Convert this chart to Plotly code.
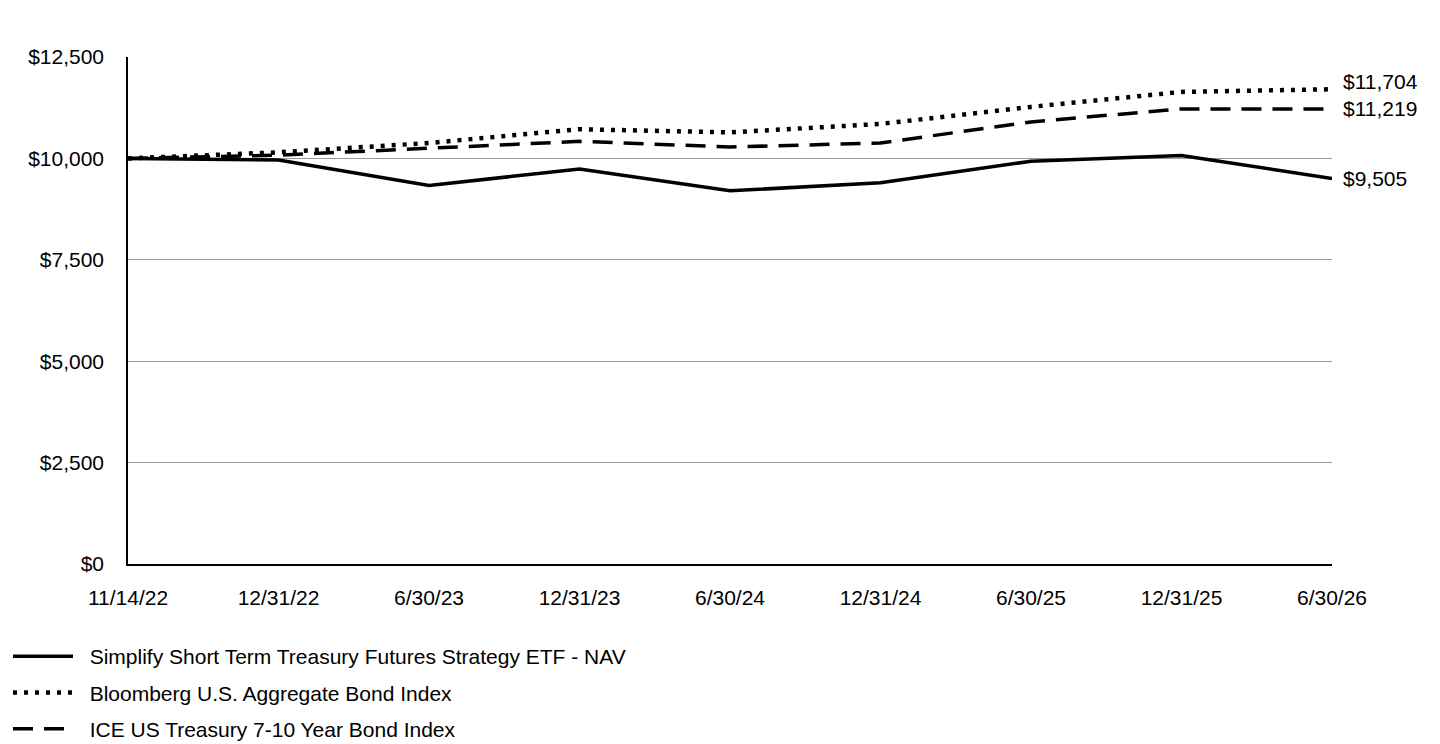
import plotly.graph_objects as go

# period-end dates on the x axis
dates = ["11/14/22", "12/31/22", "6/30/23", "12/31/23", "6/30/24",
         "12/31/24", "6/30/25", "12/31/25", "6/30/26"]

# growth of $10,000
fund_nav = [10000, 9960, 9330, 9740, 9200, 9400, 9930, 10070, 9505]
bloomberg_agg = [10000, 10150, 10380, 10720, 10640, 10850, 11270, 11640, 11704]
ice_treasury = [10000, 10080, 10250, 10420, 10280, 10380, 10900, 11220, 11219]

names = ["Simplify Short Term Treasury Futures Strategy ETF - NAV",
         "Bloomberg U.S. Aggregate Bond Index",
         "ICE US Treasury 7-10 Year Bond Index"]

y_ticks = [0, 2500, 5000, 7500, 10000, 12500]

font = "Liberation Sans, Arial, sans-serif"

fig = go.Figure()

styles = [
    dict(dash="solid", width=3.5, label_shift=0),
    dict(dash="4px,7px", width=4.5, label_shift=8),
    dict(dash="20px,11px", width=3.5, label_shift=0),
]

for i, (name, vals, st) in enumerate(zip(names, [fund_nav, bloomberg_agg, ice_treasury], styles)):
    fig.add_trace(go.Scatter(
        x=dates, y=vals, name="\u00a0\u00a0" + name, mode="lines",
        legendgroup=f"g{i}",
        line=dict(color="black", width=st["width"], dash=st["dash"]),
        hoverinfo="skip",
    ))
    # value label at the end of each line
    fig.add_annotation(
        x=dates[-1], y=vals[-1], text=f"${vals[-1]:,}",
        showarrow=False, xanchor="left", xshift=9, yshift=st["label_shift"],
        font=dict(family=font, size=21, color="black"),
    )

fig.update_layout(
    width=1440, height=744,
    margin=dict(l=120, r=116, t=49, b=188, autoexpand=False),
    plot_bgcolor="white", paper_bgcolor="white",
    font=dict(family=font, size=21, color="black"),
    showlegend=True,
    legend=dict(
        orientation="v", xref="container", yref="container",
        x=0.0, y=0.004, xanchor="left", yanchor="bottom",
        font=dict(size=21), itemwidth=60, tracegroupgap=6,
        bgcolor="rgba(0,0,0,0)",
    ),
)

fig.update_xaxes(
    type="category", range=[0, len(dates) - 1],
    showline=True, linecolor="black", linewidth=1.5,
    showgrid=False, ticks="", ticklabelstandoff=14,
    tickfont=dict(size=21),
)
fig.update_yaxes(
    range=[0, 12500], tickvals=y_ticks,
    ticktext=[f"${v:,}" for v in y_ticks],
    showline=True, linecolor="black", linewidth=1.5,
    showgrid=True, gridcolor="#999999", gridwidth=1.2,
    zeroline=False, ticks="", ticklabelstandoff=18,
    tickfont=dict(size=21),
)

fig.write_html("out.html")
